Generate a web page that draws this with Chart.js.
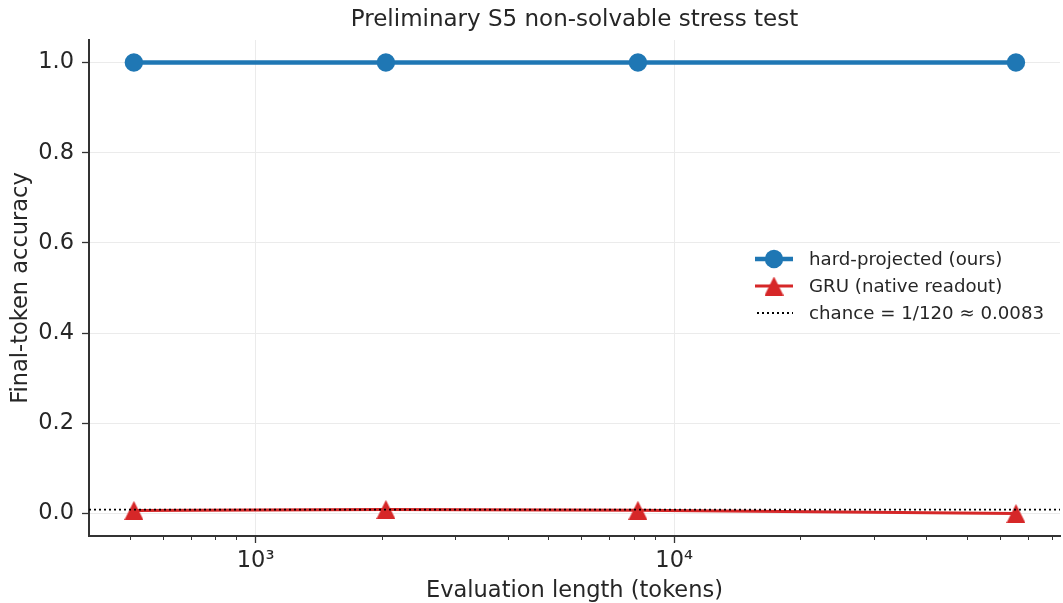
<!DOCTYPE html>
<html>
<head>
<meta charset="utf-8">
<script src="https://cdn.jsdelivr.net/npm/chart.js@4.4.1/dist/chart.umd.min.js"></script>
<style>
  html, body { margin: 0; padding: 0; background: #fff; }
  #wrap { width: 1063px; height: 603px; }
</style>
</head>
<body>
<div id="wrap"><canvas id="chart" width="1063" height="603"></canvas></div>
<script>
// data
const lengths = [512, 2048, 8192, 65536];
const hardProjected = [1.0, 1.0, 1.0, 1.0];
const gruNative = [0.0067, 0.0089, 0.007, 0.0];
const chance = 1 / 120;

const yTicks = [0, 0.2, 0.4, 0.6, 0.8, 1.0];
const xMajor = [1000, 10000];
const xMajorLabels = ['10\u00B3', '10\u2074'];
const xMinor = [500, 600, 700, 800, 900,
  2000, 3000, 4000, 5000, 6000, 7000, 8000, 9000,
  20000, 30000, 40000, 50000, 60000, 70000, 80000];

const BLUE = '#1f77b4', RED = '#d62728', INK = '#262626', SPINE = '#333333';
Chart.defaults.font.family = "'DejaVu Sans', sans-serif";

// matplotlib style '^' marker (isosceles, width == height)
function triMarker(size, color) {
  const c = document.createElement('canvas');
  c.width = size; c.height = size;
  const g = c.getContext('2d');
  g.fillStyle = color;
  g.beginPath();
  g.moveTo(size / 2, 0);
  g.lineTo(size, size);
  g.lineTo(0, size);
  g.closePath();
  g.fill();
  return c;
}
const tri = triMarker(19, RED);

const extras = {
  id: 'extras',
  afterDatasetsDraw(chart) {
    const { ctx, chartArea: a, scales } = chart;
    // chance line
    const yc = scales.y.getPixelForValue(chance);
    ctx.save();
    ctx.strokeStyle = '#000';
    ctx.lineWidth = 1.8;
    ctx.setLineDash([2, 3]);
    ctx.beginPath();
    ctx.moveTo(a.left, yc);
    ctx.lineTo(a.right, yc);
    ctx.stroke();
    ctx.restore();
  },
  afterDraw(chart) {
    const { ctx, chartArea: a, scales } = chart;
    ctx.save();
    // minor x ticks
    ctx.strokeStyle = SPINE;
    ctx.lineWidth = 1;
    xMinor.forEach(v => {
      const x = Math.round(scales.x.getPixelForValue(v)) + 0.5;
      ctx.beginPath();
      ctx.moveTo(x, a.bottom);
      ctx.lineTo(x, a.bottom + 4);
      ctx.stroke();
    });
    // title
    ctx.fillStyle = INK;
    ctx.font = "23px 'DejaVu Sans'";
    ctx.textAlign = 'center';
    ctx.textBaseline = 'middle';
    ctx.fillText('Preliminary S5 non-solvable stress test', (a.left + a.right) / 2, 20);

    // legend
    const lx = 755, ly = 259, gap = 27;
    ctx.font = "18.2px 'DejaVu Sans'";
    ctx.textAlign = 'left';
    const ds = chart.data.datasets;
    // blue
    ctx.strokeStyle = BLUE; ctx.lineWidth = 4.5;
    ctx.beginPath(); ctx.moveTo(lx, ly); ctx.lineTo(lx + 38, ly); ctx.stroke();
    ctx.fillStyle = BLUE;
    ctx.beginPath(); ctx.arc(lx + 19, ly, 9.2, 0, Math.PI * 2); ctx.fill();
    // red
    ctx.strokeStyle = RED; ctx.lineWidth = 3;
    ctx.beginPath(); ctx.moveTo(lx, ly + gap); ctx.lineTo(lx + 38, ly + gap); ctx.stroke();
    ctx.drawImage(tri, lx + 19 - tri.width / 2, ly + gap - tri.height / 2);
    // chance
    ctx.strokeStyle = '#000'; ctx.lineWidth = 1.8; ctx.setLineDash([2, 3]);
    ctx.beginPath(); ctx.moveTo(lx + 2, ly + 2 * gap); ctx.lineTo(lx + 38, ly + 2 * gap); ctx.stroke();
    ctx.setLineDash([]);
    ctx.fillStyle = INK;
    ctx.fillText(ds[0].label, lx + 54, ly + 1);
    ctx.fillText(ds[1].label, lx + 54, ly + gap + 1);
    ctx.fillText('chance = 1/120 \u2248 0.0083', lx + 54, ly + 2 * gap + 1);
    ctx.restore();
  }
};

new Chart(document.getElementById('chart'), {
  type: 'line',
  data: {
    datasets: [
      {
        label: 'hard-projected (ours)',
        data: lengths.map((x, i) => ({ x, y: hardProjected[i] })),
        borderColor: BLUE, backgroundColor: BLUE, borderWidth: 4.5,
        pointStyle: 'circle', pointRadius: 9.2, pointBorderWidth: 0
      },
      {
        label: 'GRU (native readout)',
        data: lengths.map((x, i) => ({ x, y: gruNative[i] })),
        borderColor: RED, backgroundColor: RED, borderWidth: 3,
        pointStyle: tri, pointRadius: 10, pointBorderWidth: 0
      }
    ]
  },
  options: {
    responsive: false,
    animation: false,
    events: [],
    layout: { autoPadding: false, padding: { top: 40, right: 3, left: 0, bottom: 0 } },
    plugins: { legend: { display: false }, tooltip: { enabled: false }, title: { display: false } },
    scales: {
      x: {
        type: 'logarithmic',
        min: 400, max: 83500,
        afterBuildTicks: s => { s.ticks = xMajor.concat(xMinor).map(v => ({ value: v })); },
        afterFit: s => { s.height = 67; },
        ticks: {
          autoSkip: false, maxRotation: 0, padding: 5,
          color: INK, font: { size: 22.5 },
          callback: v => { const i = xMajor.indexOf(v); return i >= 0 ? xMajorLabels[i] : ''; }
        },
        grid: {
          color: c => (c.tick && xMajor.includes(c.tick.value)) ? '#ebebeb' : 'rgba(0,0,0,0)',
          tickColor: c => (c.tick && xMajor.includes(c.tick.value)) ? SPINE : 'rgba(0,0,0,0)',
          tickLength: 7, lineWidth: 1, tickWidth: 1.3
        },
        border: { color: SPINE, width: 2 },
        title: { display: true, text: 'Evaluation length (tokens)', color: INK, font: { size: 22.5 }, padding: { top: 0, bottom: -2 } }
      },
      y: {
        min: -0.05, max: 1.05,
        afterBuildTicks: s => { s.ticks = yTicks.map(v => ({ value: v })); },
        afterFit: s => { s.width = 89; },
        ticks: { color: INK, font: { size: 22.5 }, padding: 8, callback: v => v.toFixed(1) },
        grid: { color: '#ebebeb', lineWidth: 1, tickLength: 7, tickColor: SPINE, tickWidth: 1.3 },
        border: { color: SPINE, width: 2 },
        title: { display: true, text: 'Final-token accuracy', color: INK, font: { size: 22.5 }, padding: { top: 8, bottom: 0 } }
      }
    }
  },
  plugins: [extras]
});
</script>
</body>
</html>
